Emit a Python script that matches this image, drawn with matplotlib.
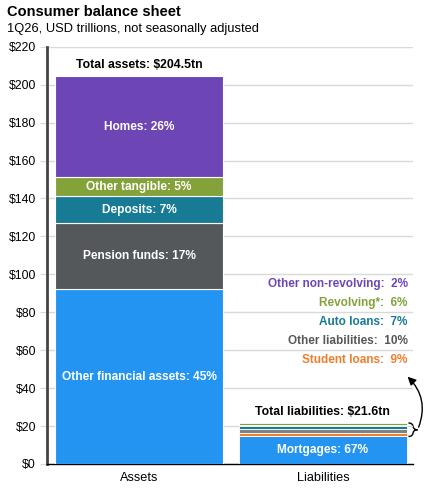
import numpy as np
import matplotlib.pyplot as plt
from matplotlib.path import Path
from matplotlib.patches import PathPatch

plt.rcParams['font.family'] = ['Liberation Sans', 'DejaVu Sans']

# data (USD trillions)
asset_names = ['Other financial assets', 'Pension funds', 'Deposits', 'Other tangible', 'Homes']
asset_vals = [92.0, 34.8, 14.3, 10.2, 53.2]
asset_pct = [45, 17, 7, 5, 26]
asset_colors = ['#2394F2', '#55585B', '#177B95', '#83A23A', '#6E45B5']

liab_names = ['Mortgages', 'Student loans', 'Other liabilities', 'Auto loans', 'Other non-revolving', 'Revolving*']
liab_vals = [14.5, 1.9, 2.2, 1.5, 0.4, 1.3]
liab_pct = [67, 9, 10, 7, 2, 6]
liab_colors = ['#2394F2', '#F07D2A', '#7F8285', '#177B95', '#6E45B5', '#83A23A']

total_assets = 204.5
total_liab = 21.6

# side labels, top to bottom
side_names = ['Other non-revolving', 'Revolving*', 'Auto loans', 'Other liabilities', 'Student loans']
side_pct = [2, 6, 7, 10, 9]
side_colors = ['#6E45B5', '#83A23A', '#177B95', '#55585B', '#F07D2A']
side_y = [95, 85, 75, 65, 55]

fig = plt.figure(figsize=(4.28, 4.92), dpi=100)
ax = fig.add_axes([0.110, 0.057, 0.855, 0.848])

w = 0.91
bottom = 0
for name, v, p, c in zip(asset_names, asset_vals, asset_pct, asset_colors):
    ax.bar(0, v, width=w, bottom=bottom, color=c, edgecolor='white', linewidth=0.8, zorder=3)
    ax.text(0, bottom + v / 2, f'{name}: {p}%', ha='center', va='center',
            color='white', fontsize=8.6, fontweight='bold', zorder=4)
    bottom += v

bottom = 0
for name, v, c in zip(liab_names, liab_vals, liab_colors):
    ax.bar(1, v, width=w, bottom=bottom, color=c, edgecolor='white', linewidth=0.6, zorder=3)
    bottom += v
ax.text(1, liab_vals[0] / 2, f'{liab_names[0]}: {liab_pct[0]}%', ha='center', va='center',
        color='white', fontsize=8.6, fontweight='bold', zorder=4)

ax.text(0, total_assets + 6, f'Total assets: ${total_assets}tn', ha='center', va='center',
        fontsize=8.8, fontweight='bold')
ax.text(1, total_liab + 6, f'Total liabilities: ${total_liab}tn', ha='center', va='center',
        fontsize=8.8, fontweight='bold')

for name, p, c, y in zip(side_names, side_pct, side_colors, side_y):
    ax.text(1.46, y, f'{name}:  {p}%', ha='right', va='center', color=c,
            fontsize=8.5, fontweight='bold')

# brace + arrow
bx = 1 + w / 2 + 0.01
y0, y1 = liab_vals[0], total_liab
ym = (y0 + y1) / 2
verts = [(bx, y1), (bx + 0.04, y1), (bx + 0.01, ym), (bx + 0.05, ym),
         (bx + 0.01, ym), (bx + 0.04, y0), (bx, y0)]
codes = [Path.MOVETO, Path.CURVE4, Path.CURVE4, Path.CURVE4,
         Path.CURVE4, Path.CURVE4, Path.CURVE4]
ax.add_patch(PathPatch(Path(verts, codes), fill=False, lw=1, color='black', clip_on=False))
ax.annotate('', xy=(1.45, 47), xytext=(bx + 0.05, ym), annotation_clip=False,
            arrowprops=dict(arrowstyle='-|>', color='black', lw=1,
                            connectionstyle='arc3,rad=0.35', mutation_scale=12))

ax.set_ylim(0, 220)
ax.set_xlim(-0.5, 1.49)
ax.set_yticks(np.arange(0, 221, 20))
ax.set_yticklabels([f'${v}' for v in range(0, 221, 20)])
ax.set_xticks([0, 1])
ax.set_xticklabels(['Assets', 'Liabilities'])
ax.yaxis.grid(True, color='#D9D9D9', lw=1, zorder=0)
ax.tick_params(axis='y', length=5, color='#D9D9D9', labelsize=8.8, pad=3)
ax.tick_params(axis='x', length=0, labelsize=9.2, pad=6)
for s in ['top', 'right']:
    ax.spines[s].set_visible(False)
ax.spines['left'].set_color('#444444')
ax.spines['left'].set_linewidth(2)
ax.spines['bottom'].set_color('black')
ax.spines['bottom'].set_linewidth(1)

fig.text(0.017, 0.975, 'Consumer balance sheet', fontsize=10.5, fontweight='bold', va='center')
fig.text(0.017, 0.941, '1Q26, USD trillions, not seasonally adjusted', fontsize=9.3, va='center')

fig.savefig('out.png', dpi=100)
